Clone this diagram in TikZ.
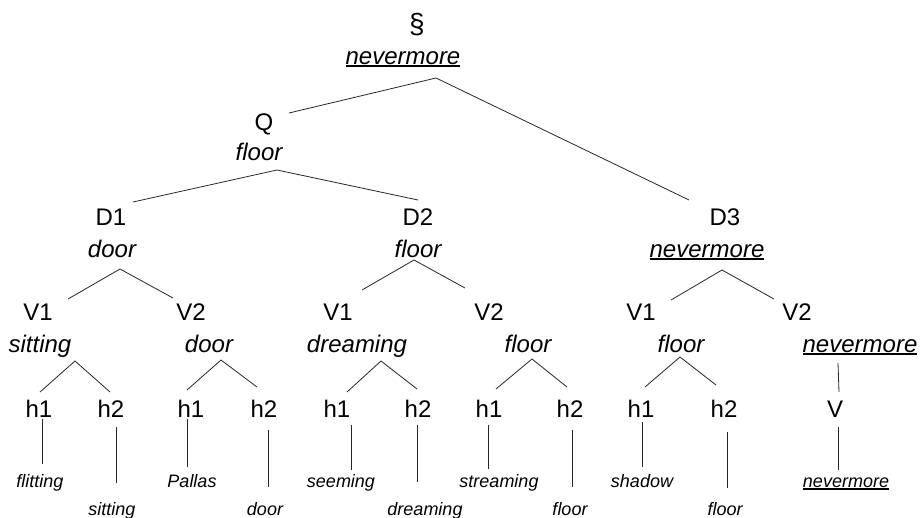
\documentclass[tikz,border=0pt]{standalone}
\usepackage{fontspec}
\setmainfont{Liberation Sans}
\newcommand\ulw[1]{\setbox0=\hbox{#1}\rlap{\vrule height -1.3pt depth 3.1pt width \wd0}\box0}
\tikzset{
  lab/.style={anchor=base, inner sep=0pt, font=\fontsize{24}{28}\selectfont},
  word/.style={anchor=base, inner sep=0pt, font=\fontsize{24}{28}\selectfont\itshape},
  leaf/.style={anchor=base, inner sep=0pt, font=\fontsize{18}{21}\selectfont\itshape},
  edge/.style={line width=0.8pt, black!85}
}
\begin{document}
\begin{tikzpicture}[x=1pt,y=-1pt]
\useasboundingbox (0,0) rectangle (921,517);
% labels
\node[lab, font=\fontsize{28}{30}\selectfont] (sec) at (417,33) {§};
\node[lab] (Q) at (264,130) {Q};
\node[lab] (D1) at (111,225) {D1};
\node[lab] (D2) at (418,225) {D2};
\node[lab] (D3) at (725,225) {D3};
\node[lab] (V1a) at (38,320) {V1};
\node[lab] (V2a) at (191,320) {V2};
\node[lab] (V1b) at (338,320) {V1};
\node[lab] (V2b) at (489,320) {V2};
\node[lab] (V1c) at (641,320) {V1};
\node[lab] (V2c) at (797,320) {V2};
\node[lab] (h1a) at (39,417) {h1};
\node[lab] (h2a) at (111,417) {h2};
\node[lab] (h1b) at (191,417) {h1};
\node[lab] (h2b) at (264,417) {h2};
\node[lab] (h1c) at (337,417) {h1};
\node[lab] (h2c) at (418,417) {h2};
\node[lab] (h1d) at (489,417) {h1};
\node[lab] (h2d) at (570,417) {h2};
\node[lab] (h1e) at (641,417) {h1};
\node[lab] (h2e) at (724,417) {h2};
\node[lab] (V) at (835,417) {V};
% words
\node[word] (w0) at (403,64) {\ulw{nevermore}};
\node[word] (wQ) at (259,160) {floor};
\node[word] (wD1) at (112,257) {door};
\node[word] (wD2) at (418,257) {floor};
\node[word] (wD3) at (707,257) {\ulw{nevermore}};
\node[word] (wV1a) at (40,352) {sitting};
\node[word] (wV2a) at (209,352) {door};
\node[word] (wV1b) at (357,352) {dreaming};
\node[word] (wV2b) at (528,352) {floor};
\node[word] (wV1c) at (681,352) {floor};
\node[word] (wV2c) at (860,352) {\ulw{nevermore}};
% leaves
\node[leaf] (l1) at (40,487) {flitting};
\node[leaf] (l2) at (112,515) {sitting};
\node[leaf] (l3) at (192,487) {Pallas};
\node[leaf] (l4) at (265,515) {door};
\node[leaf] (l5) at (341,487) {seeming};
\node[leaf] (l6) at (425,515) {dreaming};
\node[leaf] (l7) at (499,487) {streaming};
\node[leaf] (l8) at (570,515) {floor};
\node[leaf] (l9) at (642,487) {shadow};
\node[leaf] (l10) at (725,515) {floor};
\node[leaf] (l11) at (846,487) {\ulw{nevermore}};
% connectors
\draw[edge] ([shift={(33,14)}]w0.base) -- ([shift={(25,-17)}]Q.base);
\draw[edge] ([shift={(33,14)}]w0.base) -- ([shift={(-36,-25)}]D3.base);
\draw[edge] ([shift={(18,10)}]wQ.base) -- ([shift={(22,-23)}]D1.base);
\draw[edge] ([shift={(18,10)}]wQ.base) -- ([shift={(0,-25)}]D2.base);
\draw[edge] ([shift={(8,12)}]wD1.base) -- ([shift={(30,-21)}]V1a.base);
\draw[edge] ([shift={(8,12)}]wD1.base) -- ([shift={(-18,-22)}]V2a.base);
\draw[edge] ([shift={(-4,3)}]wD2.base) -- ([shift={(24,-30)}]V1b.base);
\draw[edge] ([shift={(-4,3)}]wD2.base) -- ([shift={(-24,-32)}]V2b.base);
\draw[edge] ([shift={(15,13)}]wD3.base) -- ([shift={(30,-20)}]V1c.base);
\draw[edge] ([shift={(15,13)}]wD3.base) -- ([shift={(-23,-21)}]V2c.base);
\draw[edge] ([shift={(35,9)}]wV1a.base) -- ([shift={(1,-25)}]h1a.base);
\draw[edge] ([shift={(35,9)}]wV1a.base) -- ([shift={(-1,-25)}]h2a.base);
\draw[edge] ([shift={(12,8)}]wV2a.base) -- ([shift={(-4,-27)}]h1b.base);
\draw[edge] ([shift={(12,8)}]wV2a.base) -- ([shift={(-7,-30)}]h2b.base);
\draw[edge] ([shift={(24,9)}]wV1b.base) -- ([shift={(10,-25)}]h1c.base);
\draw[edge] ([shift={(24,9)}]wV1b.base) -- ([shift={(-1,-28)}]h2c.base);
\draw[edge] ([shift={(4,7)}]wV2b.base) -- ([shift={(7,-28)}]h1d.base);
\draw[edge] ([shift={(4,7)}]wV2b.base) -- ([shift={(-3,-30)}]h2d.base);
\draw[edge] ([shift={(-1,5)}]wV1c.base) -- ([shift={(4,-30)}]h1e.base);
\draw[edge] ([shift={(-1,5)}]wV1c.base) -- ([shift={(-8,-32)}]h2e.base);
\draw[edge] ([shift={(-22,11)}]wV2c.base) -- ([shift={(4,-25)}]V.base);
\draw[edge] ([shift={(3,2)}]h1a.base) -- ([shift={(2,-23)}]l1.base);
\draw[edge] ([shift={(5,10)}]h2a.base) -- ([shift={(4,-32)}]l2.base);
\draw[edge] ([shift={(-4,2)}]h1b.base) -- ([shift={(-5,-20)}]l3.base);
\draw[edge] ([shift={(4,13)}]h2b.base) -- ([shift={(3,-28)}]l4.base);
\draw[edge] ([shift={(14,8)}]h1c.base) -- ([shift={(10,-17)}]l5.base);
\draw[edge] ([shift={(-1,8)}]h2c.base) -- ([shift={(-8,-33)}]l6.base);
\draw[edge] ([shift={(-1,8)}]h1d.base) -- ([shift={(-11,-18)}]l7.base);
\draw[edge] ([shift={(2,13)}]h2d.base) -- ([shift={(2,-28)}]l8.base);
\draw[edge] ([shift={(1,5)}]h1e.base) -- ([shift={(0,-20)}]l9.base);
\draw[edge] ([shift={(3,15)}]h2e.base) -- ([shift={(2,-27)}]l10.base);
\draw[edge] ([shift={(3,10)}]V.base) -- ([shift={(-8,-17)}]l11.base);
\end{tikzpicture}
\end{document}
